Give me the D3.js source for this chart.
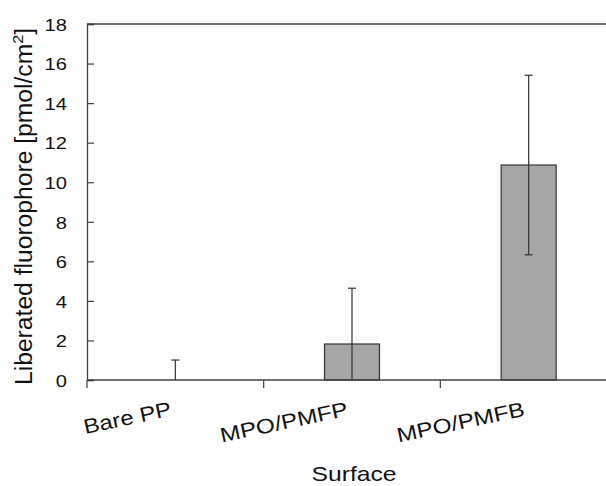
<!DOCTYPE html>
<html><head><meta charset="utf-8">
<script src="https://cdn.jsdelivr.net/npm/d3@7"></script>
<style>body{margin:0;background:#fff}svg{display:block}text{font-family:Arial,"Liberation Sans",sans-serif;fill:#111}</style>
</head><body><svg id="c" width="606" height="486"></svg>
<script>
const categories = ["Bare PP", "MPO/PMFP", "MPO/PMFB"];
const values = [0, 1.82, 10.87];
const errors = [1.01, 2.82, 4.54];
const yTicks = [0, 2, 4, 6, 8, 10, 12, 14, 16, 18];

(function () {
const svg = d3.select("#c");
const pL = 87, pR = 617, pT = 24, pB = 380;
const x = d3.scaleBand().domain(categories).range([pL, pR]).paddingInner(0).paddingOuter(0);
const y = d3.scaleLinear().domain([0, 18]).range([pB, pT]);
const ax = "#404040";
const ff = "Arial, 'Liberation Sans', sans-serif";

// frame top/right
svg.append("line").attr("x1", pL).attr("x2", pR).attr("y1", pT).attr("y2", pT).attr("stroke", ax).attr("stroke-width", 1.3);
svg.append("line").attr("x1", pR).attr("x2", pR).attr("y1", pT).attr("y2", pB).attr("stroke", ax).attr("stroke-width", 1.3);

// bars
const bw = 55;
svg.selectAll("rect.bar").data(categories).enter().append("rect")
  .attr("x", (d) => x(d) + x.bandwidth() / 2 - bw / 2)
  .attr("width", bw)
  .attr("y", (d, i) => y(values[i]))
  .attr("height", (d, i) => y(0) - y(values[i]))
  .attr("fill", "#a6a6a6").attr("stroke", "#333").attr("stroke-width", 1.2);

// error bars
const g = svg.append("g").attr("stroke", "#333").attr("stroke-width", 1.2);
categories.forEach((c, i) => {
  const cx = x(c) + x.bandwidth() / 2;
  const hi = values[i] + errors[i];
  const lo = Math.max(0, values[i] - errors[i]);
  g.append("line").attr("x1", cx).attr("x2", cx).attr("y1", y(lo)).attr("y2", y(hi));
  g.append("line").attr("x1", cx - 4).attr("x2", cx + 4).attr("y1", y(hi)).attr("y2", y(hi));
  if (values[i] - errors[i] > 0)
    g.append("line").attr("x1", cx - 4).attr("x2", cx + 4).attr("y1", y(lo)).attr("y2", y(lo));
});

// y axis
const yAxis = d3.axisLeft(y).tickValues(yTicks).tickSize(-7).tickPadding(20);
const yg = svg.append("g").attr("transform", `translate(${pL},0)`).call(yAxis);
yg.attr("font-family", ff).attr("font-size", 17);
yg.select(".domain").attr("stroke", ax).attr("stroke-width", 1.3);
yg.selectAll(".tick line").attr("stroke", ax).attr("stroke-width", 1.2);
yg.selectAll(".tick text").attr("fill", "#111").attr("x", -20).attr("dy", "0.37em")
  .attr("text-anchor", "end")
  .attr("textLength", (d) => String(d).length * 11.2).attr("lengthAdjust", "spacingAndGlyphs");

// x axis
svg.append("line").attr("x1", pL).attr("x2", pR).attr("y1", pB).attr("y2", pB).attr("stroke", ax).attr("stroke-width", 1.3);
const bounds = categories.map((c) => x(c)).concat([pR]);
svg.selectAll("line.xt").data(bounds).enter().append("line")
  .attr("x1", (d) => d).attr("x2", (d) => d).attr("y1", pB).attr("y2", pB + 8)
  .attr("stroke", ax).attr("stroke-width", 1.2);
const xlLen = [89, 130, 130];
svg.selectAll("text.xl").data(categories).enter().append("text")
  .attr("text-anchor", "end").attr("font-size", 20.5)
  .attr("textLength", (d, i) => xlLen[i]).attr("lengthAdjust", "spacingAndGlyphs")
  .attr("transform", (d) => `translate(${x(d) + x.bandwidth() / 2 - 3},${pB + 35.5}) rotate(-12)`)
  .text((d) => d);

// titles
svg.append("text").attr("x", 354).attr("y", 481).attr("text-anchor", "middle").attr("font-size", 21)
  .attr("textLength", 85).attr("lengthAdjust", "spacingAndGlyphs").text("Surface");
const yt = svg.append("text").attr("text-anchor", "middle").attr("font-size", 23)
  .attr("textLength", 357).attr("lengthAdjust", "spacingAndGlyphs")
  .attr("transform", "translate(32,206.5) rotate(-90)");
yt.append("tspan").text("Liberated fluorophore [pmol/cm");
yt.append("tspan").attr("font-size", 15).attr("dy", -9).text("2");
yt.append("tspan").attr("dy", 9).text("]");
})();
</script></body></html>
